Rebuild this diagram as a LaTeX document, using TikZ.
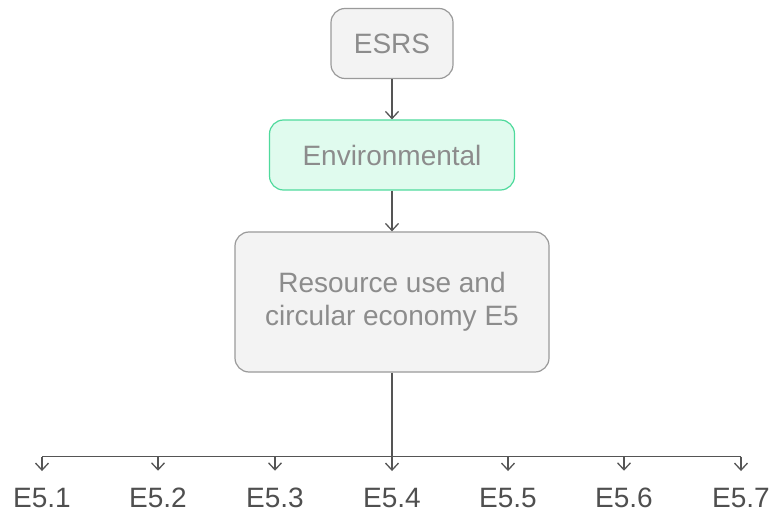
\documentclass[tikz,border=0pt]{standalone}
\usepackage{fontspec}
\setmainfont{Liberation Sans}
\usetikzlibrary{arrows.meta}
\definecolor{boxfill}{HTML}{F3F3F3}
\definecolor{boxline}{HTML}{9A9A9A}
\definecolor{envfill}{HTML}{E0FBEE}
\definecolor{envline}{HTML}{4FDA9C}
\definecolor{boxtext}{HTML}{8C8C8C}
\definecolor{linecol}{HTML}{555555}
\definecolor{labtext}{HTML}{4F4F4F}
\tikzset{
  box/.style={draw=boxline, fill=boxfill, rounded corners=14bp, line width=1.2bp,
    text=boxtext, font=\fontsize{28bp}{33.5bp}\selectfont, align=center, inner sep=0pt},
  envbox/.style={box, draw=envline, fill=envfill},
  conn/.style={draw=linecol, line width=1.3bp},
  arr/.style={conn, -{Straight Barb[length=7bp,width=13bp]}},
  lab/.style={text=labtext, font=\fontsize{28bp}{33bp}\selectfont, inner sep=0pt, anchor=base}
}
\begin{document}
\begin{tikzpicture}[x=1bp,y=-1bp]
\useasboundingbox (0,0) rectangle (772,512);
\node[box, minimum width=122bp, minimum height=70bp] (esrs) at (392,43.5) {ESRS};
\node[envbox, minimum width=245bp, minimum height=70bp] (env) at (392,155) {Environmental};
\node[box, minimum width=314bp, minimum height=140bp] (res) at (392,302) {Resource use and\\circular economy E5};
\draw[arr] (esrs.south) -- (env.north);
\draw[arr] (env.south) -- (res.north);
\coordinate (bus) at (392,456.5);
\draw[conn] (res.south) -- (bus);
\foreach \i/\x in {1/42,2/158,3/275,4/392,5/508,6/624,7/741}{
  \node[lab] (e\i) at (\x,507.5) {E5.\i};
  \coordinate (b\i) at (\x,456.5);
  \draw[arr, shorten >=17bp] (b\i) -- (e\i.north);
}
\draw[conn] (b1) -- (b7);
\end{tikzpicture}
\end{document}
